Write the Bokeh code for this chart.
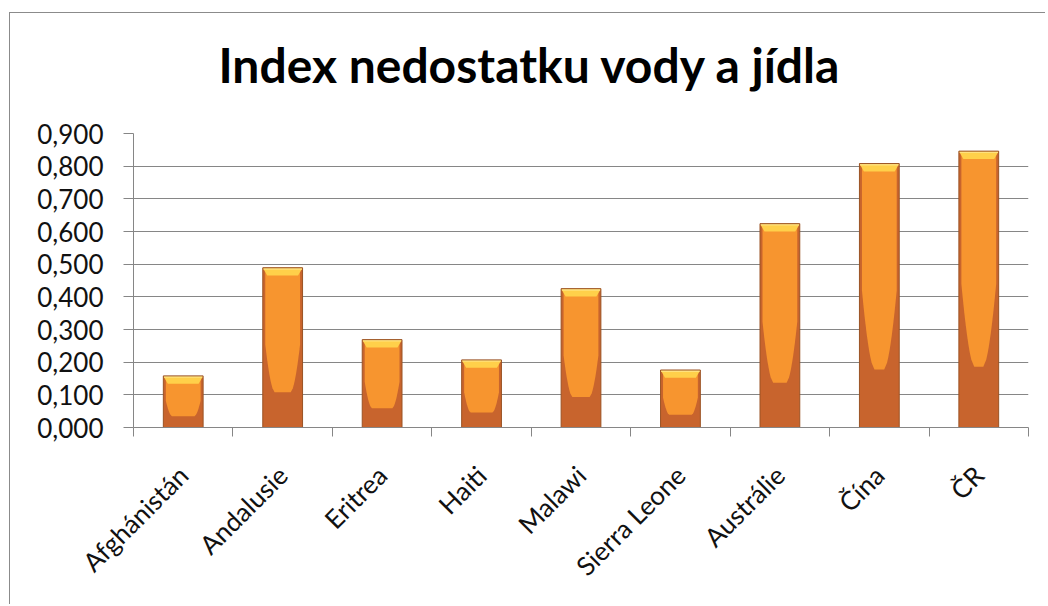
import math
from bokeh.plotting import figure
from bokeh.models import Range1d, FixedTicker, CustomJSTickFormatter, ColumnDataSource, Title
from bokeh.embed import file_html
from bokeh.resources import INLINE

# ---- data ----
categories = ["Afghánistán", "Andalusie", "Eritrea", "Haiti", "Malawi",
              "Sierra Leone", "Austrálie", "Čína", "ČR"]
values = [0.158, 0.489, 0.269, 0.207, 0.425, 0.176, 0.624, 0.808, 0.846]
y_ticks = [0.0, 0.1, 0.2, 0.3, 0.4, 0.5, 0.6, 0.7, 0.8, 0.9]
y_tick_labels = ["0,000", "0,100", "0,200", "0,300", "0,400",
                 "0,500", "0,600", "0,700", "0,800", "0,900"]
title_text = "Index nedostatku vody a jídla"

# ---- style ----
GRID = "#868686"
DARK = "#C8642D"
MID = "#F7952F"
CAP = "#FFD04A"
CAP_TOP = "#FFE27E"
EDGE = "#9A5224"
FONT = "Lato"

n = len(categories)
centers = [i + 0.5 for i in range(n)]
boundaries = list(range(n + 1))
bar_w = 0.4
hw = bar_w / 2
inset = 0.025
cap_h = 0.024

p = figure(width=1036, height=592,
           x_range=Range1d(0, n), y_range=Range1d(y_ticks[0], y_ticks[-1]),
           output_backend="svg", toolbar_location=None,
           min_border_left=123, min_border_right=18,
           min_border_top=120, min_border_bottom=178)
p.styles = {"margin-top": "12px", "margin-left": "9px",
            "border-top": "1px solid #8b8b8b", "border-left": "1px solid #8b8b8b"}
p.outline_line_color = None
p.background_fill_color = "white"
p.border_fill_color = "white"

# spacer between title and plot area
p.add_layout(Title(text=" ", text_font_size="4px", standoff=9), "above")

# title
p.title.text = title_text
p.title.text_font = FONT
p.title.text_font_size = "48px"
p.title.text_font_style = "bold"
p.title.text_color = "#000000"
p.title.align = "left"
p.title.offset = 85
p.title.standoff = 45
p.title.vertical_align = "top"

# y axis
yt = FixedTicker(ticks=y_ticks, minor_ticks=[])
p.yaxis.ticker = yt
p.yaxis.formatter = CustomJSTickFormatter(
    args=dict(yvals=y_ticks, ylabels=y_tick_labels),
    code="const i = yvals.findIndex(t => Math.abs(t - tick) < 1e-9); return i >= 0 ? ylabels[i] : '';")
p.yaxis.axis_line_color = GRID
p.yaxis.major_tick_line_color = GRID
p.yaxis.major_tick_out = 10
p.yaxis.major_tick_in = 0
p.yaxis.minor_tick_line_color = None
p.yaxis.major_label_standoff = 20
p.yaxis.major_label_text_font = FONT
p.yaxis.major_label_text_font_size = "26px"
p.yaxis.major_label_text_color = "#111111"

p.ygrid.ticker = yt
p.ygrid.grid_line_color = GRID
p.ygrid.grid_line_width = 1
p.xgrid.visible = False

# x axis
xt = FixedTicker(ticks=centers, minor_ticks=boundaries)
p.xaxis.ticker = xt
p.xaxis.formatter = CustomJSTickFormatter(
    args=dict(names=categories),
    code="const i = Math.round(tick - 0.5); return (i >= 0 && i < names.length) ? names[i] : '';")
p.xaxis.axis_line_color = GRID
p.xaxis.major_tick_line_color = None
p.xaxis.minor_tick_line_color = GRID
p.xaxis.minor_tick_out = 9
p.xaxis.minor_tick_in = 0
p.xaxis.major_label_orientation = math.pi / 4
p.xaxis.major_label_standoff = 34
p.xaxis.major_label_text_font = FONT
p.xaxis.major_label_text_font_size = "26px"
p.xaxis.major_label_text_color = "#111111"

# ---- bars ----
src = ColumnDataSource(dict(x=centers, top=values,
                            captop_bottom=[v - 0.006 for v in values]))
# dark base
p.vbar(x="x", top="top", bottom=0, width=bar_w, source=src,
       fill_color=DARK, line_color=None)

# lighter inner region (rounded U / V shape)
inner_xs, inner_ys = [], []
steps = 12
for c, t in zip(centers, values):
    ys_ = 0.52 * t
    yb = 0.22 * t
    bw = 0.04 + 0.09 * (1 - t / y_ticks[-1])
    iw = hw - inset
    right_x, right_y = [c + iw], [t]
    for k in range(steps + 1):
        f = 1 - k / steps
        right_y.append(yb + (ys_ - yb) * f)
        right_x.append(c + bw + (iw - bw) * f ** 0.6)
    left_x = [2 * c - xx for xx in reversed(right_x)]
    left_y = list(reversed(right_y))
    inner_xs.append(right_x + left_x)
    inner_ys.append(right_y + left_y)
p.patches(inner_xs, inner_ys, fill_color=MID, line_color=None)

# yellow bevel cap
cap_xs, cap_ys = [], []
for c, t in zip(centers, values):
    cap_xs.append([c - hw, c + hw, c + hw - 0.045, c - hw + 0.045])
    cap_ys.append([t, t, t - cap_h, t - cap_h])
p.patches(cap_xs, cap_ys, fill_color=CAP, line_color=None)
p.vbar(x="x", top="top", bottom="captop_bottom", width=bar_w - 0.01,
       source=src, fill_color=CAP_TOP, line_color=None)

# outline
p.vbar(x="x", top="top", bottom=0, width=bar_w, source=src,
       fill_color=None, line_color=EDGE, line_width=1)

open("out.html", "w").write(file_html(p, INLINE))
